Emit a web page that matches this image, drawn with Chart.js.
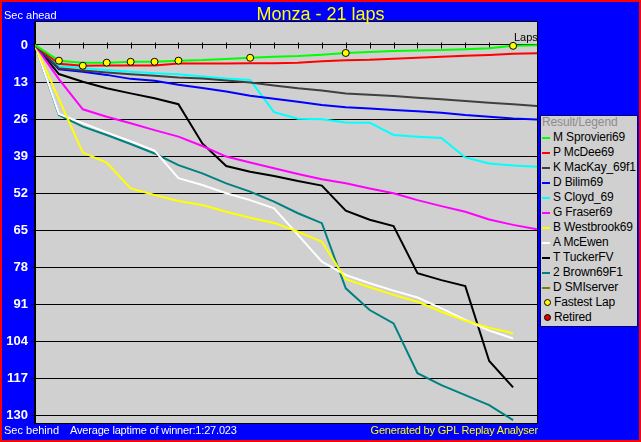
<!DOCTYPE html>
<html>
<head>
<meta charset="utf-8">
<script src="https://cdn.jsdelivr.net/npm/chart.js@4.4.1/dist/chart.umd.min.js"></script>
<style>
html, body { margin: 0; padding: 0; }
body { width: 641px; height: 442px; background: #0000ff; position: relative; overflow: hidden;
       font-family: "Liberation Sans", Arial, sans-serif; }
canvas { position: absolute; left: 0; top: 0; }
#frame { position: absolute; left: 0; top: 0; width: 641px; height: 442px; box-sizing: border-box;
         border: 2px solid #ff0000; pointer-events: none; }
.txt { position: absolute; white-space: nowrap; line-height: 1; }
#title { left: 0; width: 641px; text-align: center; top: 5px; font-size: 18px; color: #ffff00; }
#legend { position: absolute; left: 540px; top: 115px; width: 98px; height: 212px; box-sizing: border-box;
          border: 1px solid #000080; background: #d0d0d0; overflow: hidden; }
#legend .row { position: absolute; left: 1px; height: 15px; line-height: 15px; font-size: 12px;
               color: #000; white-space: nowrap; letter-spacing: -0.15px; }
#legend .sw { display: inline-block; width: 8px; height: 2px; margin-right: 3px; vertical-align: middle; }
#legend .dot { display: inline-block; width: 5px; height: 5px; border-radius: 50%; border: 1px solid #000;
               margin: 0 3px 0 2px; vertical-align: middle; }
</style>
</head>
<body>
<canvas id="race" width="641" height="442"></canvas>
<div class="txt" id="title">Monza - 21 laps</div>
<div class="txt" style="left:4px; top:10px; font-size:11px; color:#fff;">Sec ahead</div>
<div class="txt" style="left:514px; top:32px; font-size:11px; color:#000;">Laps</div>
<div class="txt" style="left:4px; top:425px; font-size:11px; color:#fff;">Sec behind</div>
<div class="txt" style="left:70px; top:425px; font-size:11px; color:#fff; letter-spacing:-0.18px;">Average laptime of winner:1:27.023</div>
<div class="txt" style="right:103px; top:425px; font-size:11px; color:#ffff00; letter-spacing:-0.2px; text-align:right;">Generated by GPL Replay Analyser</div>
<div id="legend"></div>
<div id="frame"></div>
<script>
// seconds behind the winner's average pace, lap 0..21
const laps = [0, 1, 2, 3, 4, 5, 6, 7, 8, 9, 10, 11, 12, 13, 14, 15, 16, 17, 18, 19, 20, 21];
const yTicks = [0, 13, 26, 39, 52, 65, 78, 91, 104, 117, 130];

const sprovieri = [0, 5.5, 6.2, 6.2, 5.9, 5.9, 5.5, 5.3, 4.9, 4.5, 4.1, 3.9, 3.4, 2.8, 2.5, 2.1, 1.9, 1.8, 1.5, 1.1, 0.3, 0.1];
const mcdee = [0, 6.6, 7.3, 7.2, 7.2, 7.2, 6.5, 6.5, 6.5, 6.4, 6.4, 6.2, 5.7, 5.4, 5.2, 4.8, 4.5, 4.1, 3.8, 3.5, 3.1, 2.9];
const mackay = [0, 8.2, 9.0, 9.7, 10.3, 10.8, 11.4, 11.8, 12.5, 13.2, 14.2, 15.2, 16.0, 17.0, 17.5, 17.9, 18.5, 19.1, 19.7, 20.3, 20.8, 21.4];
const bilim = [0, 8.5, 9.4, 10.5, 11.9, 12.6, 14.0, 15.1, 16.3, 17.8, 18.9, 19.9, 21.1, 21.9, 22.3, 22.8, 23.3, 23.8, 24.6, 25.2, 25.8, 26.2];
const cloyd = [0, 7.4, 8.2, 8.8, 9.4, 9.9, 10.3, 11.1, 11.8, 12.3, 23.6, 25.9, 26.1, 27.2, 27.3, 31.6, 32.2, 32.7, 39.5, 41.6, 42.3, 42.8];
const fraser = [0, 12.0, 22.6, 25.2, 27.5, 29.9, 32.2, 35.5, 39.2, 41.3, 43.3, 45.3, 47.2, 48.6, 50.4, 52.1, 54.5, 56.6, 58.6, 61.3, 63.2, 64.7];
const westbrook = [0, 19.0, 37.8, 41.3, 50.4, 52.7, 54.8, 56.2, 58.6, 60.7, 62.5, 65.6, 69.1, 82.3, 85.1, 87.8, 90.2, 93.7, 96.9, 99.3, 101.3];
const mcewen = [0, 24.2, 27.5, 30.7, 33.8, 37.1, 46.8, 49.2, 52.1, 54.5, 57.4, 66.7, 76.1, 80.8, 83.7, 86.3, 88.7, 92.5, 96.6, 100.3, 103.1];
const tucker = [0, 10.2, 12.9, 15.2, 17.0, 18.7, 20.8, 34.6, 42.5, 44.5, 46.0, 47.8, 49.4, 58.2, 61.4, 63.6, 80.2, 82.6, 84.7, 111.0, 120.3];
const brown = [0, 24.6, 28.7, 31.6, 34.8, 38.1, 42.2, 45.1, 48.6, 51.5, 55.0, 59.1, 62.6, 85.5, 93.1, 97.8, 115.3, 119.5, 123.0, 126.5, 131.8];
const smiserver = [];

const fastestLapNo = [1, 2, 3, 4, 5, 6, 9, 13, 20];
const fastestLapSec = [5.5, 7.3, 6.2, 5.9, 5.9, 5.5, 4.5, 2.8, 0.3];

const drivers = ['M Sprovieri69', 'P McDee69', 'K MacKay_69f1', 'D Bilim69', 'S Cloyd_69', 'G Fraser69',
                 'B Westbrook69', 'A McEwen', 'T TuckerFV', '2 Brown69F1', 'D SMIserver'];
const series = [sprovieri, mcdee, mackay, bilim, cloyd, fraser, westbrook, mcewen, tucker, brown, smiserver];
const colors = ['#00ff00', '#ff0000', '#404040', '#0000ff', '#00ffff', '#ff00ff',
                '#ffff00', '#ffffff', '#000000', '#008080', '#808000'];

// legend box
const legend = document.getElementById('legend');
let html = '<div class="row" style="top:-1px; color:#8c8c8c;">Result/Legend</div>';
drivers.forEach((name, i) => {
    html += '<div class="row" style="top:' + (14 + 15 * i) + 'px;"><span class="sw" style="background:' + colors[i] + '"></span>' + name + '</div>';
});
html += '<div class="row" style="top:' + (14 + 15 * 11) + 'px;"><span class="dot" style="background:#ffff00"></span>Fastest Lap</div>';
html += '<div class="row" style="top:' + (14 + 15 * 12) + 'px;"><span class="dot" style="background:#e00000"></span>Retired</div>';
legend.innerHTML = html;

const plotFrame = {
    id: 'plotFrame',
    beforeDraw(chart) {
        const a = chart.chartArea, c = chart.ctx;
        c.save();
        c.fillStyle = '#d0d0d0';
        c.fillRect(a.left, a.top, a.right - a.left, a.bottom - a.top);
        c.restore();
    },
    beforeDatasetsDraw(chart) {
        // lap ticks on the zero line
        const xs = chart.scales.x, ys = chart.scales.y, c = chart.ctx;
        const y0 = Math.round(ys.getPixelForValue(0)) + 0.5;
        c.save();
        c.strokeStyle = '#000';
        c.lineWidth = 1;
        c.beginPath();
        laps.slice(1, 21).forEach(l => {
            const x = Math.round(xs.getPixelForValue(l)) + 0.5;
            c.moveTo(x, y0 - 3);
            c.lineTo(x, y0 + 3);
        });
        c.stroke();
        c.restore();
    },
    afterDraw(chart) {
        const a = chart.chartArea, c = chart.ctx;
        c.save();
        c.strokeStyle = '#000';
        c.lineWidth = 1;
        c.strokeRect(Math.round(a.left) - 0.5, Math.round(a.top) - 0.5, a.right - a.left + 1, a.bottom - a.top + 1);
        c.restore();
    }
};

const datasets = [{
    label: 'Fastest Lap',
    data: fastestLapNo.map((l, i) => ({ x: l, y: fastestLapSec[i] })),
    showLine: false,
    pointStyle: 'circle',
    pointRadius: 3.5,
    pointBackgroundColor: '#ffff00',
    pointBorderColor: '#000',
    pointBorderWidth: 1
}];
drivers.forEach((name, i) => {
    datasets.push({
        label: name,
        data: series[i].map((v, k) => ({ x: laps[k], y: v })),
        borderColor: colors[i],
        borderWidth: 2,
        pointRadius: 0,
        tension: 0,
        fill: false
    });
});

new Chart(document.getElementById('race').getContext('2d'), {
    type: 'line',
    data: { datasets: datasets },
    options: {
        responsive: false,
        animation: false,
        devicePixelRatio: 1,
        layout: { padding: { left: 0, top: 22, right: 104, bottom: 19 } },
        plugins: { legend: { display: false }, tooltip: { enabled: false } },
        scales: {
            x: { type: 'linear', min: 0, max: 21, display: false },
            y: {
                type: 'linear',
                reverse: true,
                min: -8.08,
                max: 132.8,
                afterBuildTicks: s => { s.ticks = yTicks.map(v => ({ value: v })); },
                afterFit: s => { s.width = 35; },
                grid: { color: '#000', lineWidth: 1, drawTicks: true, tickLength: 4, tickColor: '#000' },
                border: { display: true, color: '#000' },
                ticks: {
                    color: '#fff',
                    padding: 3,
                    font: { family: 'Liberation Sans', size: 13, weight: 'bold' }
                }
            }
        }
    },
    plugins: [plotFrame]
});
</script>
</body>
</html>
